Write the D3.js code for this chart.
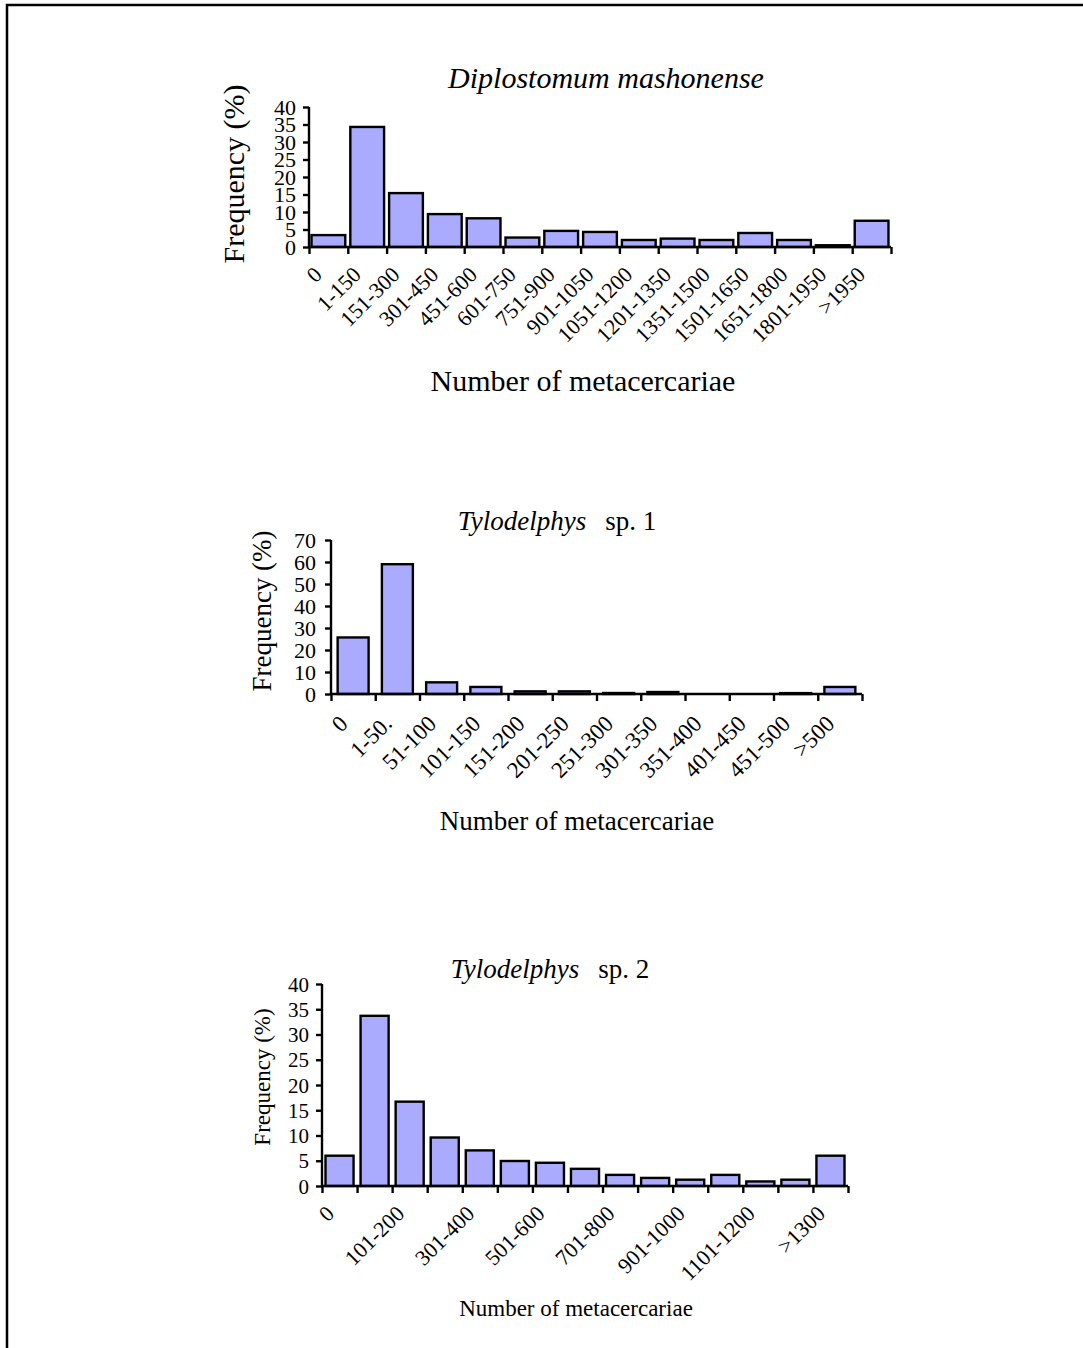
<!DOCTYPE html>
<html>
<head>
<meta charset="utf-8">
<script src="https://cdn.jsdelivr.net/npm/d3@7"></script>
<style>
  body { margin: 0; background: #fff; }
  text { font-family: "Liberation Serif", "Times New Roman", serif; fill: #000; }
</style>
</head>
<body>
<svg id="chart"></svg>
<script>
const width = 1083;
const height = 1348;

// Diplostomum mashonense
const dmCategories = ["0", "1-150", "151-300", "301-450", "451-600", "601-750", "751-900", "901-1050",
    "1051-1200", "1201-1350", "1351-1500", "1501-1650", "1651-1800", "1801-1950", ">1950"];
const dmValues = [3.4, 34.3, 15.4, 9.4, 8.2, 2.7, 4.6, 4.3, 2.0, 2.4, 2.0, 4.0, 2.0, 0.5, 7.5];
const dmYTicks = [0, 5, 10, 15, 20, 25, 30, 35, 40];

// Tylodelphys sp. 1
const t1Categories = ["0", "1-50.", "51-100", "101-150", "151-200", "201-250", "251-300", "301-350",
    "351-400", "401-450", "451-500", ">500"];
const t1Values = [25.7, 59.0, 5.3, 3.2, 1.2, 1.2, 0.45, 0.9, 0, 0, 0.4, 3.2];
const t1YTicks = [0, 10, 20, 30, 40, 50, 60, 70];

// Tylodelphys sp. 2 (only every other category is labelled)
const t2Categories = ["0", "1-100", "101-200", "201-300", "301-400", "401-500", "501-600", "601-700",
    "701-800", "801-900", "901-1000", "1001-1100", "1101-1200", "1201-1300", ">1300"];
const t2Values = [6.0, 33.7, 16.7, 9.6, 7.05, 4.95, 4.6, 3.4, 2.2, 1.6, 1.25, 2.2, 0.9, 1.25, 6.0];
const t2TickLabels = ["0", "101-200", "301-400", "501-600", "701-800", "901-1000", "1101-1200", ">1300"];
const t2YTicks = [0, 5, 10, 15, 20, 25, 30, 35, 40];

const xTitle = "Number of metacercariae";
const yTitle = "Frequency (%)";

const svg = d3.select("#chart").attr("width", width).attr("height", height);

// page frame (open to the right and bottom, as in the scan)
svg.append("path")
    .attr("d", `M7,${height} V5 H${width}`)
    .attr("fill", "none").attr("stroke", "#000").attr("stroke-width", 2.5);

function drawChart(o) {
    const g = svg.append("g");
    const n = o.categories.length;

    const x = d3.scaleBand().domain(o.categories).range([o.left, o.right])
        .paddingInner(o.pad).paddingOuter(o.pad / 2);
    const edge = d3.scaleLinear().domain([0, n]).range([o.left, o.right]);
    const y = d3.scaleLinear().domain([0, o.yMax]).range([o.bottom, o.top]);

    // bars
    g.selectAll("rect.bar").data(o.values).enter().append("rect")
        .attr("class", "bar")
        .attr("x", (d, i) => x(o.categories[i]))
        .attr("width", x.bandwidth())
        .attr("y", d => y(d))
        .attr("height", d => y(0) - y(d))
        .attr("fill", "#aaaaff")
        .attr("stroke", "#000")
        .attr("stroke-width", 2.4);

    // y axis
    const yAxis = g.append("g").attr("transform", `translate(${o.left},0)`)
        .call(d3.axisLeft(y).tickValues(o.yTicks).tickSize(6).tickPadding(o.yPad).tickFormat(d3.format("d")));
    yAxis.select(".domain").attr("d", `M0,${o.top}V${o.bottom}`).attr("stroke-width", 2.4);
    yAxis.selectAll(".tick line").attr("stroke-width", 2.4);
    yAxis.selectAll(".tick text")
        .style("font-family", "Liberation Serif, serif")
        .style("font-size", o.tickSize + "px").attr("dy", "0.34em");

    // x axis: ticks at the band edges
    const xAxis = g.append("g").attr("transform", `translate(0,${o.bottom})`)
        .call(d3.axisBottom(edge).tickValues(d3.range(n + 1)).tickSize(7).tickFormat(""));
    xAxis.select(".domain").attr("d", `M${o.left},0H${o.right}`).attr("stroke-width", 2.4);
    xAxis.selectAll(".tick line").attr("stroke-width", 2.4);

    // rotated category labels
    const labelled = o.labels || o.categories;
    g.selectAll("text.xlab").data(labelled).enter().append("text")
        .attr("class", "xlab")
        .attr("text-anchor", "end")
        .attr("transform", d => `translate(${x(d) + x.bandwidth() / 2 + o.lab[0]},${o.bottom + o.lab[1]}) rotate(-45)`)
        .style("font-size", o.labSize + "px")
        .text(d => d);

    // titles
    const t = g.append("text")
        .attr("x", o.titleX).attr("y", o.titleY)
        .attr("text-anchor", "middle")
        .style("font-size", o.titleSize + "px");
    t.append("tspan").style("font-style", "italic").text(o.title);
    if (o.titleRest) t.append("tspan").attr("dx", o.titleSize * 0.7).text(o.titleRest);

    g.append("text")
        .attr("x", o.xTitleX).attr("y", o.xTitleY)
        .attr("text-anchor", "middle")
        .style("font-size", o.xTitleSize + "px")
        .text(xTitle);

    g.append("text")
        .attr("transform", `translate(${o.yTitleX},${o.yTitleY}) rotate(-90)`)
        .attr("text-anchor", "middle")
        .style("font-size", o.yTitleSize + "px")
        .text(yTitle);
}

drawChart({
    categories: dmCategories, values: dmValues, yTicks: dmYTicks, yMax: 40,
    left: 309, right: 891, top: 107, bottom: 247, pad: 0.13,
    tickSize: 22, yPad: 7, lab: [-5, 29], labSize: 22,
    title: "Diplostomum mashonense", titleX: 606, titleY: 88, titleSize: 30,
    xTitleX: 583, xTitleY: 391, xTitleSize: 30,
    yTitleX: 244, yTitleY: 174, yTitleSize: 30
});

drawChart({
    categories: t1Categories, values: t1Values, yTicks: t1YTicks, yMax: 70,
    left: 331, right: 862, top: 540, bottom: 694, pad: 0.3,
    tickSize: 22, yPad: 9, lab: [-4, 31], labSize: 23,
    title: "Tylodelphys", titleRest: "sp. 1", titleX: 557, titleY: 530, titleSize: 27,
    xTitleX: 577, xTitleY: 830, xTitleSize: 27,
    yTitleX: 271, yTitleY: 611, yTitleSize: 27
});

drawChart({
    categories: t2Categories, values: t2Values, labels: t2TickLabels, yTicks: t2YTicks, yMax: 40,
    left: 322, right: 848, top: 984, bottom: 1186, pad: 0.2,
    tickSize: 21, yPad: 7, lab: [-4, 29], labSize: 22,
    title: "Tylodelphys", titleRest: "sp. 2", titleX: 550, titleY: 978, titleSize: 27,
    xTitleX: 576, xTitleY: 1316, xTitleSize: 23,
    yTitleX: 270, yTitleY: 1077, yTitleSize: 23
});
</script>
</body>
</html>
